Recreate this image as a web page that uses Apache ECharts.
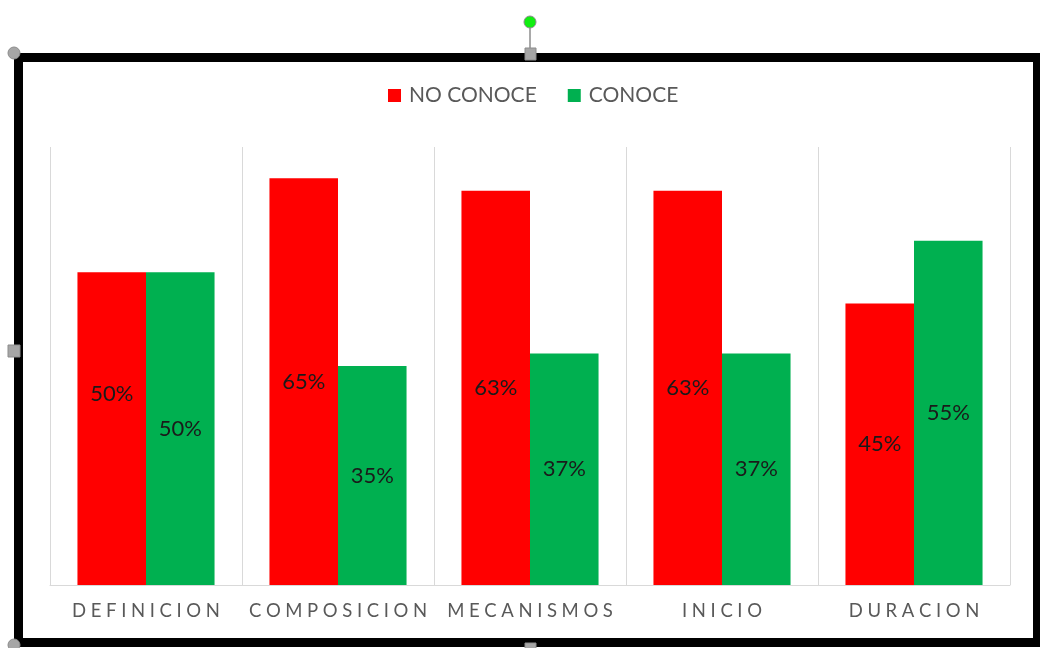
<!DOCTYPE html>
<html>
<head>
<meta charset="utf-8">
<script src="https://cdn.jsdelivr.net/npm/echarts@6/dist/echarts.min.js"></script>
<style>
  html, body { margin: 0; padding: 0; background: #ffffff; }
  #chart { width: 1040px; height: 648px; }
</style>
</head>
<body>
<div id="chart"></div>
<script>
// Categories and percentages per topic
const categories = ['DEFINICION', 'COMPOSICION', 'MECANISMOS', 'INICIO', 'DURACION'];
const noConoce = [50, 65, 63, 63, 45];
const conoce = [50, 35, 37, 37, 55];
const seriesNames = ['NO CONOCE', 'CONOCE'];

const RED = '#ff0000';
const GREEN = '#00b050';
const FONT = 'Lato';

// spread the letters of each axis label apart
const spaced = s => s.split('').join('\u2009\u2009');

const labelStyle = {
  show: true,
  position: 'inside',
  formatter: p => p.value + '%',
  color: '#1a1a1a',
  fontFamily: FONT,
  fontSize: 22
};

const noConoceData = noConoce.map((v, i) =>
  i === 0 ? { value: v, label: { offset: [0, -35] } } : v);

// selection handles around the chart frame
const handleStyle = { fill: '#a6a6a6', stroke: '#8c8c8c', lineWidth: 1 };
const graphics = [
  {
    type: 'rect', z: 10, silent: true,
    shape: { x: 18.5, y: 57.5, width: 1019, height: 585 },
    style: { fill: 'none', stroke: '#000000', lineWidth: 9 }
  },
  { type: 'circle', z: 11, shape: { cx: 14, cy: 53, r: 6 }, style: handleStyle },
  { type: 'circle', z: 11, shape: { cx: 14, cy: 645, r: 6 }, style: handleStyle },
  { type: 'rect', z: 11, shape: { x: 8, y: 345, width: 12, height: 12 }, style: handleStyle },
  { type: 'rect', z: 11, shape: { x: 525, y: 48, width: 11, height: 12 }, style: handleStyle },
  { type: 'rect', z: 11, shape: { x: 525, y: 643, width: 11, height: 12 }, style: handleStyle },
  { type: 'line', z: 11, shape: { x1: 530, y1: 28, x2: 530, y2: 48 }, style: { stroke: '#8c8c8c', lineWidth: 1.5 } },
  { type: 'circle', z: 11, shape: { cx: 530, cy: 22, r: 6 }, style: { fill: '#11ee11', stroke: '#8c8c8c', lineWidth: 1 } }
];

const chart = echarts.init(document.getElementById('chart'), null, { renderer: 'canvas' });
chart.setOption({
  animation: false,
  backgroundColor: '#ffffff',
  color: [RED, GREEN],
  legend: {
    data: seriesNames,
    top: 80,
    left: 383,
    icon: 'rect',
    itemWidth: 13,
    itemHeight: 13,
    itemGap: 31,
    textStyle: { color: '#595959', fontFamily: FONT, fontSize: 21, padding: [0, 0, 0, 3] }
  },
  grid: { left: 50, right: 30, top: 147, bottom: 63, containLabel: false },
  xAxis: {
    type: 'category',
    data: categories,
    axisLine: { show: true, lineStyle: { color: '#d9d9d9', width: 1 } },
    axisTick: { show: false },
    splitLine: { show: true, interval: 0, lineStyle: { color: '#d9d9d9', width: 1 } },
    axisLabel: {
      interval: 0,
      margin: 17,
      color: '#595959',
      fontFamily: FONT,
      fontSize: 18.5,
      formatter: spaced
    }
  },
  yAxis: {
    type: 'value',
    min: 0,
    max: 70,
    interval: 10,
    show: false,
    splitLine: { show: false }
  },
  series: [
    {
      name: seriesNames[0],
      type: 'bar',
      data: noConoceData,
      barGap: '0%',
      barCategoryGap: '28.6%',
      itemStyle: { color: RED },
      label: labelStyle
    },
    {
      name: seriesNames[1],
      type: 'bar',
      data: conoce,
      barGap: '0%',
      barCategoryGap: '28.6%',
      itemStyle: { color: GREEN },
      label: labelStyle
    }
  ],
  graphic: graphics
});
</script>
</body>
</html>
